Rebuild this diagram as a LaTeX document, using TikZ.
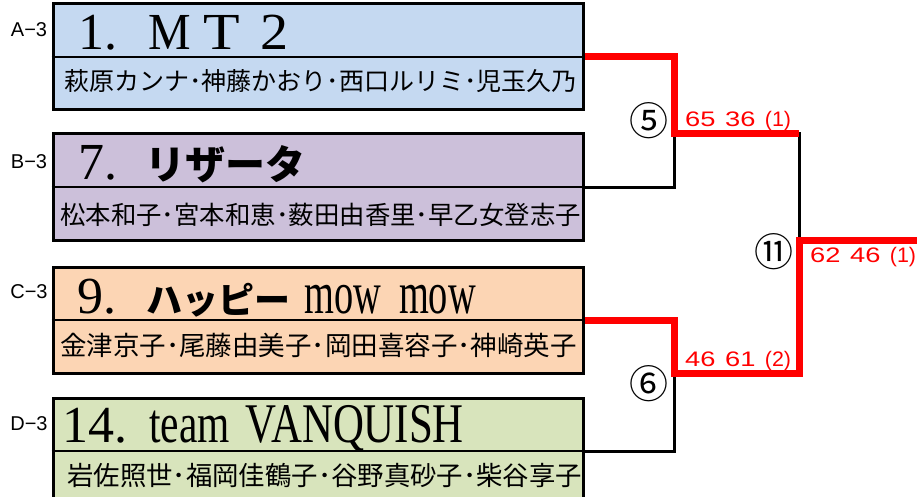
\documentclass[tikz,border=0pt]{standalone}
\usepackage{fontspec}
\setmainfont{Liberation Serif}
\newfontfamily\jafont{Noto Sans CJK JP}
\newfontfamily\lafont{Liberation Sans}
\newcommand{\sq}[2]{\scalebox{#1}[1]{#2}}
\newcommand{\scoreline}[3]{\spaceskip=9.5pt\sq{1.3}{#1} \sq{1.3}{#2} \sq{1.02}{#3}}
\definecolor{cola}{HTML}{C5D9F1}
\definecolor{colb}{HTML}{CCC0DA}
\definecolor{colc}{HTML}{FCD5B4}
\definecolor{cold}{HTML}{D8E4BC}
\tikzset{
  teambox/.style={draw=black,line width=3pt,minimum width=530pt,minimum height=106pt,inner sep=0pt},
  titletext/.style={anchor=base west,inner sep=0pt,font=\fontsize{52}{52}\selectfont},
  nametext/.style={anchor=base west,inner sep=0pt,font=\jafont\fontsize{#1}{#1}\selectfont},
  courttext/.style={inner sep=0pt,font=\lafont\fontsize{20}{20}\selectfont},
  scoretext/.style={anchor=base west,inner sep=0pt,text=red,font=\lafont\fontsize{21}{21}\selectfont},
  roundtext/.style={inner sep=0pt,font=\jafont\fontsize{39}{39}\selectfont},
  loseline/.style={draw=black,line width=3pt},
  winline/.style={draw=red,line width=7pt},
  divline/.style={draw=black,line width=1.5pt}
}
\begin{document}
\begin{tikzpicture}[x=1pt,y=-1pt]
\path[use as bounding box,clip] (0,0) rectangle (917,497);
\node[teambox,fill=cola] (boxa) at (318,57) {};
\node[teambox,fill=colb] (boxb) at (318,187) {};
\node[teambox,fill=colc] (boxc) at (318,320) {};
\node[teambox,fill=cold] (boxd) at (318,451) {};
\draw[divline] (boxa.west) -- (boxa.east);
\draw[divline] (boxb.west) -- (boxb.east);
\draw[divline] (boxc.west) -- (boxc.east);
\draw[divline] (boxd.west) -- (boxd.east);
\node[courttext] (courta) at (29,30) {A−3};
\node[courttext] (courtb) at (29,162) {B−3};
\node[courttext] (courtc) at (29,292) {C−3};
\node[courttext] (courtd) at (29,424) {D−3};
\node[titletext] (titlea) at (78,50) {1.\hspace{31pt}\sq{.92}{M}\hspace{13pt}\sq{1.15}{T}\hspace{20pt}\sq{1.08}{2}};
\node[titletext] (titleb) at (78,179) {7.\hspace{28pt}{\jafont\bfseries\fontsize{40}{40}\selectfont リザータ}};
\node[titletext] (titlec) at (77,313) {9.\hspace{30pt}{\jafont\bfseries\fontsize{36}{36}\selectfont ハッピー}\hspace{14pt}\sq{.64}{\fontsize{60}{60}\selectfont mow}\hspace{18pt}\sq{.64}{\fontsize{60}{60}\selectfont mow}};
\node[titletext] (titled) at (62,442) {14.\hspace{22pt}\sq{.74}{\fontsize{56}{56}\selectfont team}\hspace{16pt}\sq{.765}{\fontsize{56}{56}\selectfont VANQUISH}};
\node[nametext=25] (namea) at (64,91) {萩原カンナ･神藤かおり･西口ルリミ･児玉久乃};
\node[nametext=25.4] (nameb) at (60,224) {松本和子･宮本和恵･薮田由香里･早乙女登志子};
\node[nametext=26.5] (namec) at (60,355) {金津京子･尾藤由美子･岡田喜容子･神崎英子};
\node[nametext=26.4] (named) at (67,485) {岩佐照世･福岡佳鶴子･谷野真砂子･柴谷享子};
\coordinate (joinab) at (674,134);
\coordinate (joincd) at (674,373);
\coordinate (joinfin) at (799,240);
\coordinate (endfin) at (917,240);
\draw[loseline] (boxb.east) -| (joinab);
\draw[loseline] (boxd.east) -| (joincd);
\draw[loseline] (joinab) -| (joinfin);
\draw[winline] (boxa.east) -| (joinab) -- (joinab -| joinfin);
\draw[winline] (boxc.east) -| (joincd) -| (joinfin) -- (endfin);
\node[roundtext] (rounda) at (649,121) {⑤};
\node[roundtext] (roundb) at (649,384) {⑥};
\node[roundtext] (roundc) at (774,252) {⑪};
\node[scoretext] (scorea) at (685,127) {\scoreline{65}{36}{(1)}};
\node[scoretext] (scoreb) at (685,366) {\scoreline{46}{61}{(2)}};
\node[scoretext] (scorec) at (810,262) {\scoreline{62}{46}{(1)}};
\end{tikzpicture}
\end{document}
